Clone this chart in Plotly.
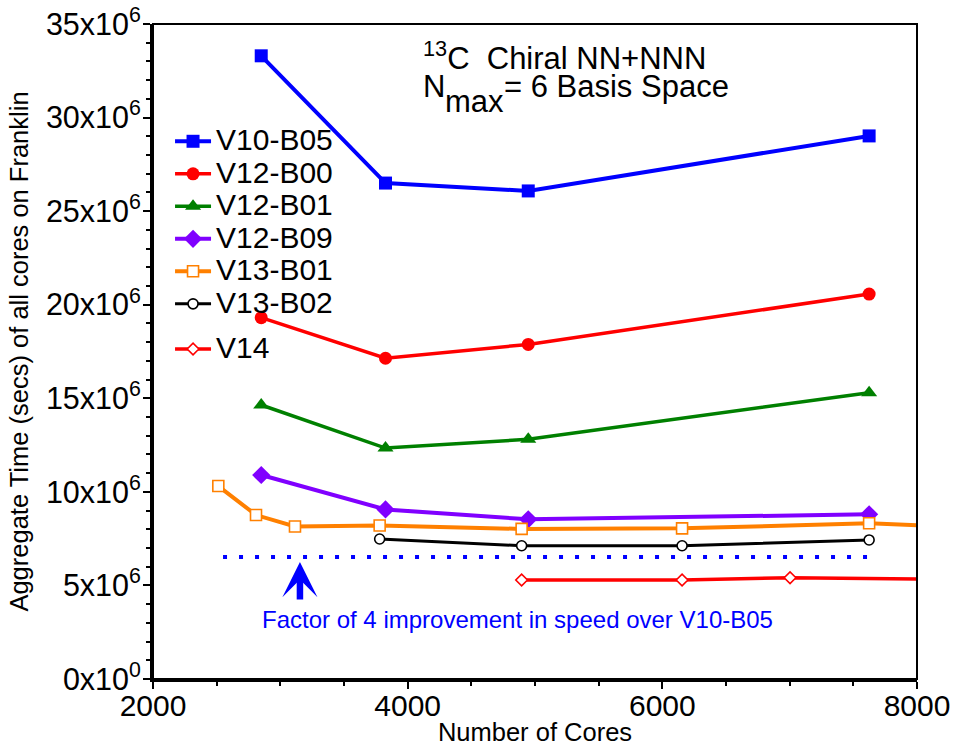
import plotly.graph_objects as go

# Core counts used on Franklin for each code version
cores_v10_v12 = [2850, 3826, 4947, 7624]
cores_v13_b01 = [2513, 2809, 3115, 3780, 4895, 6155, 7624, 9000]
cores_v13_b02 = [3780, 4895, 6155, 7624]
cores_v14 = [4895, 6155, 7003, 9000]

# Aggregate time (seconds, all cores)
time_v10_b05 = [33.3e6, 26.5e6, 26.08e6, 29.02e6]
time_v12_b00 = [19.31e6, 17.14e6, 17.88e6, 20.57e6]
time_v12_b01 = [14.64e6, 12.34e6, 12.81e6, 15.30e6]
time_v12_b09 = [10.9e6, 9.06e6, 8.53e6, 8.80e6]
time_v13_b01 = [10.31e6, 8.76e6, 8.15e6, 8.20e6, 8.02e6, 8.05e6, 8.32e6, 7.94e6]
time_v13_b02 = [7.48e6, 7.12e6, 7.12e6, 7.43e6]
time_v14 = [5.29e6, 5.29e6, 5.41e6, 5.28e6]

# Reference level: best V10-B05 time divided by 4
speedup_factor = 4
factor_span = [2550, 7624]
factor_level = min(time_v10_b05) / speedup_factor

y_tick_vals = [0, 5e6, 10e6, 15e6, 20e6, 25e6, 30e6, 35e6]
y_tick_text = ["0x10<sup>0</sup>", "5x10<sup>6</sup>", "10x10<sup>6</sup>", "15x10<sup>6</sup>",
               "20x10<sup>6</sup>", "25x10<sup>6</sup>", "30x10<sup>6</sup>", "35x10<sup>6</sup>"]
x_tick_vals = [2000, 4000, 6000, 8000]

FONT = "Liberation Sans, Arial, Helvetica, sans-serif"


def label(name):
    return f'<span style="font-size:30px">{name}</span>'


series = [
    ("V10-B05", cores_v10_v12, time_v10_b05, "#0000ff", "square", 13, "#0000ff", 4, "legend"),
    ("V12-B00", cores_v10_v12, time_v12_b00, "#ff0000", "circle", 13, "#ff0000", 3.5, "legend"),
    ("V12-B01", cores_v10_v12, time_v12_b01, "#008000", "triangle-up", 14, "#008000", 3.5, "legend"),
    ("V12-B09", cores_v10_v12, time_v12_b09, "#8000ff", "diamond", 14, "#8000ff", 4, "legend"),
    ("V13-B01", cores_v13_b01, time_v13_b01, "#ff8000", "square", 11, "white", 4, "legend"),
    ("V13-B02", cores_v13_b02, time_v13_b02, "#000000", "circle", 10, "white", 3, "legend"),
    ("V14", cores_v14, time_v14, "#ff0000", "diamond", 9, "white", 3.5, "legend2"),
]

fig = go.Figure()

fig.add_trace(go.Scatter(
    x=factor_span, y=[factor_level, factor_level], mode="lines",
    line=dict(color="#0000ff", width=4, dash="4px,12px"),
    showlegend=False, hoverinfo="skip",
))

for name, xs, ys, color, symbol, size, fill, lw, leg in series:
    fig.add_trace(go.Scatter(
        x=xs, y=ys, mode="lines+markers", name=label(name), legend=leg,
        line=dict(color=color, width=lw),
        marker=dict(symbol=symbol, size=size, color=fill,
                    line=dict(color=color, width=1.6 if fill == "white" else 0)),
    ))

axis_common = dict(
    showline=True, linecolor="black", linewidth=3, mirror=False,
    ticks="outside", ticklen=7, tickwidth=2, tickcolor="black",
    showgrid=False, zeroline=False,
)

fig.update_xaxes(
    range=[2000, 8000], tickvals=x_tick_vals, tickformat="d",
    tickfont=dict(family=FONT, size=30, color="black"), ticklabelstandoff=-9,
    minor=dict(dtick=500, ticks="outside", ticklen=4, tickwidth=2, tickcolor="black"),
    title=dict(text="Number of Cores", font=dict(family=FONT, size=25.5, color="black"), standoff=0),
    **axis_common,
)
fig.update_yaxes(
    range=[0, 35e6], tickvals=y_tick_vals, ticktext=y_tick_text,
    tickfont=dict(family=FONT, size=30.5, color="black"), ticklabelstandoff=-4,
    minor=dict(dtick=1e6, ticks="outside", ticklen=4, tickwidth=2, tickcolor="black"),
    title=dict(text="Aggregate Time (secs) of all cores on Franklin",
               font=dict(family=FONT, size=25.5, color="black"), standoff=10),
    **axis_common,
)

legend_common = dict(
    xanchor="left", yanchor="top", bgcolor="rgba(0,0,0,0)", borderwidth=0,
    font=dict(family=FONT, size=22.7, color="black"), itemwidth=36,
    traceorder="normal",
)

title_font = dict(family=FONT, size=31, color="black")

fig.update_layout(
    width=953, height=746,
    margin=dict(l=153, r=36, t=24, b=67, pad=0, autoexpand=False),
    plot_bgcolor="white", paper_bgcolor="white",
    font=dict(family=FONT, color="black"),
    legend=dict(x=0.0223, y=0.8534, **legend_common),
    legend2=dict(x=0.0223, y=0.5363, **legend_common),
    shapes=[dict(type="rect", xref="paper", yref="paper", x0=0, x1=1, y0=0, y1=1,
                 line=dict(color="black", width=2), layer="above")],
    annotations=[
        # nucleus / interaction label
        dict(xref="paper", yref="paper", x=0.3508, y=0.917, xanchor="left", yanchor="bottom",
             text="<sup>13</sup>C\u00a0\u00a0Chiral NN+NNN", showarrow=False, font=title_font),
        # basis-space label: N, subscript "max", then the rest
        dict(xref="paper", yref="paper", x=0.3508, y=0.9339, xanchor="left", yanchor="top",
             text="N", showarrow=False, font=title_font),
        dict(xref="paper", yref="paper", x=0.3796, y=0.911, xanchor="left", yanchor="top",
             text="max", showarrow=False, font=title_font),
        dict(xref="paper", yref="paper", x=0.4568, y=0.9339, xanchor="left", yanchor="top",
             text="= 6 Basis Space", showarrow=False, font=title_font),
        dict(xref="paper", yref="paper", x=0.4777, y=0.0901, xanchor="center", yanchor="middle",
             text=f"Factor of {speedup_factor} improvement in speed over V10-B05", showarrow=False,
             font=dict(family=FONT, size=24, color="#0000ff")),
        dict(xref="x", yref="y", x=3154, y=factor_level - 0.27e6, ax=0, ay=39,
             text="", showarrow=True, arrowhead=3, arrowsize=0.9, arrowwidth=6.5,
             arrowcolor="#0000ff"),
    ],
)

fig.write_html("out.html")
